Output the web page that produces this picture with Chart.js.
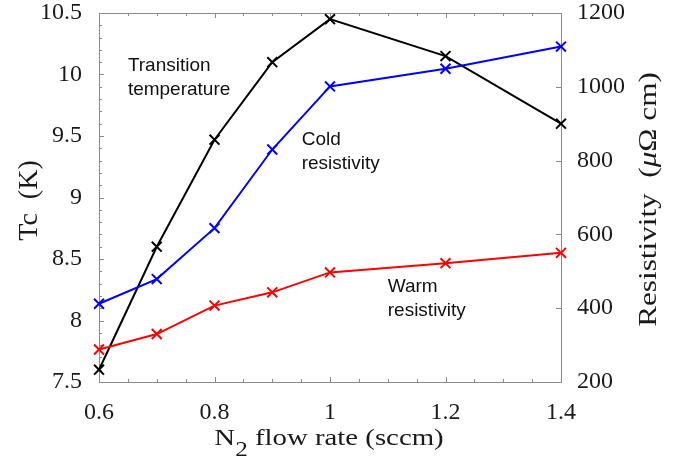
<!DOCTYPE html>
<html>
<head>
<meta charset="utf-8">
<script src="https://cdn.jsdelivr.net/npm/chart.js@4/dist/chart.umd.min.js"></script>
<style>
  body { margin: 0; background: #fff; }
</style>
</head>
<body>
<canvas id="chart" width="686" height="461"></canvas>
<script>
// data
const flowRates = [0.6, 0.7, 0.8, 0.9, 1.0, 1.2, 1.4];
const tcValues = [7.6, 8.6, 9.47, 10.1, 10.45, 10.15, 9.6];
const coldResistivity = [412, 479, 617, 830, 1001, 1049, 1109];
const warmResistivity = [288, 330, 407, 443, 497, 522, 550];

const tcTicks = [7.5, 8, 8.5, 9, 9.5, 10, 10.5];
const resTicks = [200, 400, 600, 800, 1000, 1200];
const flowTicks = [0.6, 0.8, 1, 1.2, 1.4];

// text labels inside the plot, placed in data units (x, left axis)
const notes = [
    { lines: ["Transition", "temperature"], x: 0.65, y: 10.03 },
    { lines: ["Cold", "resistivity"], x: 0.951, y: 9.43 },
    { lines: ["Warm", "resistivity"], x: 1.1, y: 8.23 },
];

const serifFont = "'Liberation Serif', 'Times New Roman', serif";
const sansFont = "'Liberation Sans', Arial, sans-serif";
const axisGrey = "#8a8a8a";
const labelColor = "#1a1a1a";

const toPoints = (ys) => ys.map((y, i) => ({ x: flowRates[i], y: y }));
const isOn = (v, list) => list.some((t) => Math.abs(t - v) < 1e-6);
const fmt = (v) => String(Math.round(v * 10) / 10);

// fixed box size, and no extra room for overhanging tick labels
const fixBox = (w, h) => (s) => {
    if (w) s.width = w;
    if (h) s.height = h;
    s.paddingTop = 0;
    s.paddingBottom = 0;
    s.paddingLeft = 0;
    s.paddingRight = 0;
};

// draw a row of text pieces, optionally rotated and stretched along the line
function drawPieces(ctx, pieces, cx, baseY, angle, stretch) {
    ctx.save();
    ctx.translate(cx, baseY);
    ctx.rotate(angle);
    ctx.scale(stretch, 1);
    let total = 0;
    pieces.forEach((p) => {
        ctx.font = p.font;
        total += ctx.measureText(p.text).width;
    });
    let x = -total / 2;
    ctx.fillStyle = labelColor;
    ctx.textBaseline = "alphabetic";
    ctx.textAlign = "left";
    pieces.forEach((p) => {
        ctx.font = p.font;
        ctx.fillText(p.text, x, p.dy || 0);
        x += ctx.measureText(p.text).width;
    });
    ctx.restore();
}

const framePlugin = {
    id: "frame",
    beforeDatasetsDraw(chart) {
        const { ctx, chartArea: a, scales } = chart;
        ctx.save();
        ctx.strokeStyle = axisGrey;
        ctx.lineWidth = 1;
        ctx.strokeRect(a.left + 0.5, a.top + 0.5, a.right - a.left, a.bottom - a.top);
        ctx.beginPath();
        // x ticks, bottom and top, pointing inward
        scales.x.ticks.forEach((t) => {
            const px = Math.round(scales.x.getPixelForValue(t.value)) + 0.5;
            const len = isOn(t.value, flowTicks) ? 5 : 3;
            ctx.moveTo(px, a.bottom);
            ctx.lineTo(px, a.bottom - len);
            ctx.moveTo(px, a.top);
            ctx.lineTo(px, a.top + len);
        });
        // left ticks
        scales.y.ticks.forEach((t) => {
            const py = Math.round(scales.y.getPixelForValue(t.value)) + 0.5;
            const len = isOn(t.value, tcTicks) ? 5 : 3;
            ctx.moveTo(a.left, py);
            ctx.lineTo(a.left + len, py);
        });
        // right ticks
        scales.yRes.ticks.forEach((t) => {
            const py = Math.round(scales.yRes.getPixelForValue(t.value)) + 0.5;
            ctx.moveTo(a.right, py);
            ctx.lineTo(a.right - 5, py);
        });
        ctx.stroke();
        ctx.restore();
    },
    afterDraw(chart) {
        const { ctx, chartArea: a, scales } = chart;
        ctx.save();
        // notes
        ctx.fillStyle = "#111";
        ctx.font = "19px " + sansFont;
        ctx.textAlign = "left";
        ctx.textBaseline = "alphabetic";
        notes.forEach((n) => {
            const px = scales.x.getPixelForValue(n.x);
            const py = scales.y.getPixelForValue(n.y);
            n.lines.forEach((line, i) => ctx.fillText(line, px, py + i * 24));
        });
        ctx.restore();

        const midY = (a.top + a.bottom) / 2;
        // left title
        drawPieces(ctx, [{ text: "Tc  (K)", font: "28px " + serifFont }], 37, midY + 3, -Math.PI / 2, 1);
        // right title
        drawPieces(ctx, [
            { text: "Resistivity  (", font: "26px " + serifFont },
            { text: "\u03bc", font: "italic 26px " + serifFont },
            { text: "\u03a9 cm)", font: "26px " + serifFont },
        ], 656, midY + 2, -Math.PI / 2, 1.2);
        // x title
        drawPieces(ctx, [
            { text: "N", font: "24px " + serifFont },
            { text: "2", font: "21px " + serifFont, dy: 11 },
            { text: " flow rate (sccm)", font: "24px " + serifFont },
        ], (a.left + a.right) / 2 - 1, 445, 0, 1.2);
    },
};

const common = {
    fill: false,
    tension: 0,
    clip: false,
    borderWidth: 2,
    pointStyle: "crossRot",
    pointRadius: 7,
    pointHoverRadius: 7,
    pointBorderWidth: 2,
};

new Chart(document.getElementById("chart"), {
    type: "line",
    data: {
        datasets: [
            {
                ...common,
                label: "Warm resistivity",
                data: toPoints(warmResistivity),
                yAxisID: "yRes",
                borderColor: "#ff0000",
                pointBorderColor: "#ff0000",
            },
            {
                ...common,
                label: "Cold resistivity",
                data: toPoints(coldResistivity),
                yAxisID: "yRes",
                borderColor: "#0000ff",
                pointBorderColor: "#0000ff",
            },
            {
                ...common,
                label: "Transition temperature",
                data: toPoints(tcValues),
                yAxisID: "y",
                borderColor: "#000000",
                pointBorderColor: "#000000",
            },
        ],
    },
    options: {
        responsive: false,
        animation: false,
        layout: { padding: { top: 13, left: 0, right: 0, bottom: 0 } },
        plugins: {
            legend: { display: false },
            tooltip: { enabled: false },
        },
        scales: {
            x: {
                type: "linear",
                position: "bottom",
                min: 0.6,
                max: 1.4,
                afterFit: fixBox(0, 79),
                grid: { display: false },
                border: { display: false },
                ticks: {
                    stepSize: 0.05,
                    autoSkip: false,
                    maxRotation: 0,
                    padding: 8,
                    color: labelColor,
                    font: { family: serifFont, size: 24 },
                    callback: (v) => (isOn(v, flowTicks) ? fmt(v) : ""),
                },
            },
            y: {
                type: "linear",
                position: "left",
                min: 7.5,
                max: 10.5,
                afterFit: fixBox(99, 0),
                grid: { display: false },
                border: { display: false },
                ticks: {
                    stepSize: 0.1,
                    autoSkip: false,
                    padding: 9,
                    color: labelColor,
                    font: { family: serifFont, size: 24 },
                    callback: (v) => (isOn(v, tcTicks) ? fmt(v) : ""),
                },
            },
            yRes: {
                type: "linear",
                position: "right",
                min: 200,
                max: 1200,
                afterFit: fixBox(125, 0),
                grid: { display: false },
                border: { display: false },
                ticks: {
                    stepSize: 200,
                    autoSkip: false,
                    padding: 8,
                    color: labelColor,
                    font: { family: serifFont, size: 24 },
                    callback: (v) => (isOn(v, resTicks) ? String(v) : ""),
                },
            },
        },
    },
    plugins: [framePlugin],
});
</script>
</body>
</html>
